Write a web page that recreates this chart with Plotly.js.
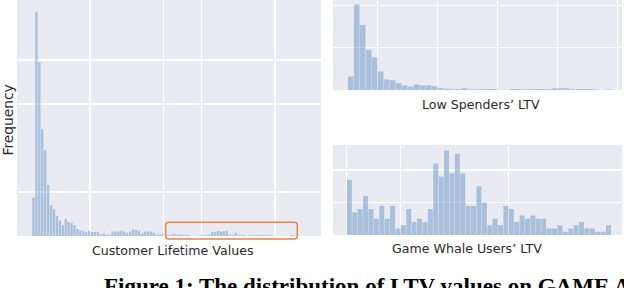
<!DOCTYPE html>
<html>
<head>
<meta charset="utf-8">
<script src="https://cdn.plot.ly/plotly-3.0.1.min.js"></script>
<style>html,body{margin:0;padding:0;background:#fff;}#chart{width:624px;height:288px;}</style>
</head>
<body>
<div id="chart"></div>
<script>
// Frequency per LTV bin, all customers (main histogram)
var allLtvFreq = [870,5090,3950,2430,1950,1160,700,610,460,350,
  250,390,320,300,250,160,130,110,90,120,
  90,90,90,40,60,25,30,100,100,100,
  120,100,75,100,145,145,120,52,100,100,
  100,75,30,30,52,0,30,30,52,30,
  30,23,30,23,0,0,0,23,23,23,
  30,90,95,120,100,110,120,30,25,70,
  25,20,20,0,20,20,20,20,20,20,
  20,20,15,0,0,0,0,0,20,15];
// Frequency per LTV bin, low spenders
var lowSpenderFreq = [32,202,154,95,77,44,25,23,16,11,
  8,13,11,11,9,5,3,2,2,4,
  2,2,2,2,2,0,0,2,2,2,
  2,2,2,2,4,4,4,2,2,2,
  2,1,0,1];
// Frequency per LTV bin, game whale users
var whaleFreq = [17,7,8,12,8,5,9,5,9,2,
  3,8,4,5,4,8,22,18,26,19,
  25,19,9,9,15,10,3,5,3,9,
  8,4,6,5,6,5,5,2,2,3,
  1,2,3,4,2,2,1,1,3];

var xTitleMain = "Customer Lifetime Values";
var xTitleLow = "Low Spenders’ LTV";
var xTitleWhale = "Game Whale Users’ LTV";
var yTitle = "Frequency";
var caption = "Figure 1: The distribution of LTV values on GAME A";

function idx(a){ return a.map(function(_, i){ return i; }); }

var W = 624, H = 288;
function px(x){ return x / W; }
function py(y){ return 1 - y / H; }

var barColor = "rgba(102,150,198,0.5)";

var traces = [
  {type:"bar", x: idx(allLtvFreq), y: allLtvFreq, xaxis:"x", yaxis:"y", width:0.8,
   marker:{color:barColor, line:{width:0}}, hoverinfo:"skip"},
  {type:"bar", x: idx(lowSpenderFreq), y: lowSpenderFreq, xaxis:"x2", yaxis:"y2", width:0.93,
   marker:{color:barColor, line:{width:0}}, hoverinfo:"skip"},
  {type:"bar", x: idx(whaleFreq), y: whaleFreq, xaxis:"x3", yaxis:"y3", width:0.92,
   marker:{color:barColor, line:{width:0}}, hoverinfo:"skip"}
];

function ax(extra){
  var base = {showticklabels:false, ticks:"", zeroline:false, showline:false,
    showgrid:true, gridcolor:"#ffffff", gridwidth:1.3, tickmode:"array", fixedrange:true};
  for (var k in extra) base[k] = extra[k];
  return base;
}

// rounded orange highlight box (pixel coords -> paper)
function roundRect(x0, y0, x1, y1, r){
  var p = function(x, y){ return px(x) + "," + py(y); };
  return "M" + p(x0 + r, y0) + " L" + p(x1 - r, y0) + " Q" + p(x1, y0) + " " + p(x1, y0 + r) +
    " L" + p(x1, y1 - r) + " Q" + p(x1, y1) + " " + p(x1 - r, y1) +
    " L" + p(x0 + r, y1) + " Q" + p(x0, y1) + " " + p(x0, y1 - r) +
    " L" + p(x0, y0 + r) + " Q" + p(x0, y0) + " " + p(x0 + r, y0) + " Z";
}

var textFont = {family:"DejaVu Sans", size:12.6, color:"#2a2a2a"};

var layout = {
  width: W, height: H,
  margin:{l:0, r:0, t:0, b:0},
  paper_bgcolor:"#ffffff",
  plot_bgcolor:"#eaeaf2",
  showlegend:false,
  barmode:"overlay",
  xaxis: ax({domain:[px(17), px(321)], range:[-5.62, 98.13], anchor:"y", tickvals:[19.3, 44.3, 57.4, 82.4]}),
  yaxis: ax({domain:[py(236), 1], range:[0, 5364], anchor:"x", tickvals:[1000, 3000, 4000]}),
  xaxis2: ax({domain:[px(333), px(622)], range:[-2.95, 45.22], anchor:"y2", tickvals:[4.5, 14.5, 24.5, 34.5, 44.5]}),
  yaxis2: ax({domain:[py(90), 1], range:[0, 212.8], anchor:"x2", tickvals:[100, 200]}),
  xaxis3: ax({domain:[px(333), px(622)], range:[-3.03, 50.5], anchor:"y3", tickvals:[-0.5, 9.5, 29.5]}),
  yaxis3: ax({domain:[py(235), py(145)], range:[0, 27.7], anchor:"x3", tickvals:[10, 20]}),
  shapes:[
    {type:"path", xref:"paper", yref:"paper", path: roundRect(165.7, 222.3, 297.3, 239, 3),
     line:{color:"#ef8535", width:1.5}, fillcolor:"rgba(0,0,0,0)", layer:"above"}
  ],
  annotations:[
    {text:xTitleMain, xref:"paper", yref:"paper", x:px(172), y:py(250), xanchor:"center", yanchor:"middle", showarrow:false, font:textFont},
    {text:xTitleLow, xref:"paper", yref:"paper", x:px(481), y:py(104), xanchor:"center", yanchor:"middle", showarrow:false, font:textFont},
    {text:xTitleWhale, xref:"paper", yref:"paper", x:px(467), y:py(248.5), xanchor:"center", yanchor:"middle", showarrow:false, font:textFont},
    {text:yTitle, xref:"paper", yref:"paper", x:px(7.5), y:py(120), xanchor:"center", yanchor:"middle", textangle:-90, showarrow:false,
     font:{family:"DejaVu Sans", size:13.8, color:"#2a2a2a"}},
    {text:"<b>" + caption + "</b>", xref:"paper", yref:"paper", x:px(102), y:py(272), xanchor:"left", yanchor:"top", showarrow:false,
     font:{family:"Liberation Serif", size:23, color:"#000000"}}
  ]
};

Plotly.newPlot("chart", traces, layout, {staticPlot:true, displayModeBar:false});
</script>
</body>
</html>
